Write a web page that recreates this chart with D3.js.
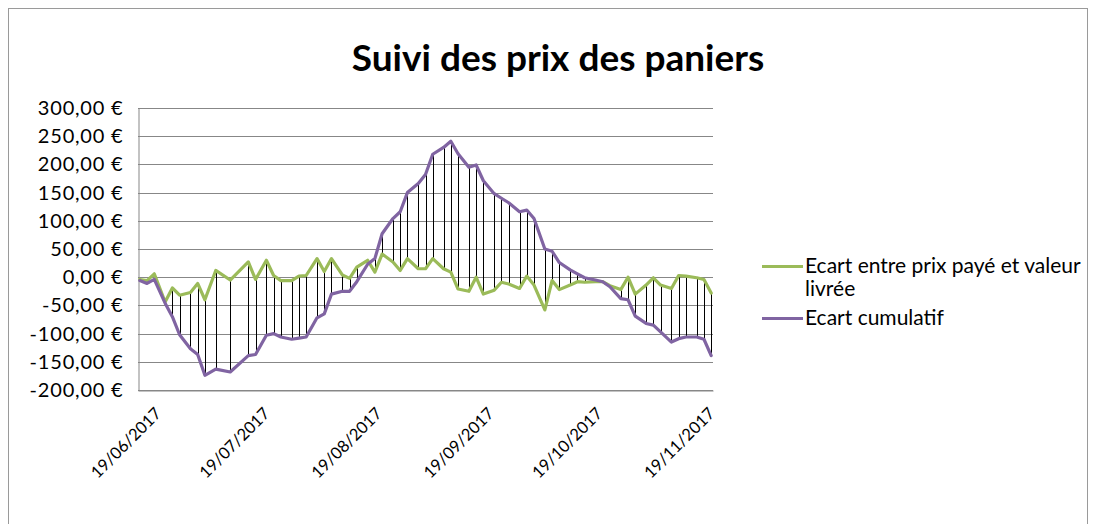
<!DOCTYPE html>
<html><head><meta charset="utf-8">
<script src="https://cdn.jsdelivr.net/npm/d3@7"></script>
<style>
body{margin:0;background:#fff}
svg{display:block}
text{font-family:Lato,"Open Sans",sans-serif;fill:#000}
</style>
</head><body>
<svg id="chart" width="1096" height="524"></svg>
<script>
const title = "Suivi des prix des paniers";
const seriesNames = ["Ecart entre prix payé et valeur livrée", "Ecart cumulatif"];
const dates = ["2017-06-19","2017-06-21","2017-06-23","2017-06-26","2017-06-28","2017-06-30",
"2017-07-03","2017-07-05","2017-07-07","2017-07-10","2017-07-14","2017-07-19","2017-07-21",
"2017-07-24","2017-07-26","2017-07-28","2017-07-31","2017-08-02","2017-08-04","2017-08-07",
"2017-08-09","2017-08-11","2017-08-14","2017-08-16","2017-08-18","2017-08-21","2017-08-23",
"2017-08-25","2017-08-28","2017-08-30","2017-09-01","2017-09-04","2017-09-06","2017-09-08",
"2017-09-11","2017-09-13","2017-09-15","2017-09-18","2017-09-20","2017-09-22","2017-09-25",
"2017-09-27","2017-09-29","2017-10-02","2017-10-04","2017-10-06","2017-10-09","2017-10-11",
"2017-10-13","2017-10-16","2017-10-18","2017-10-20","2017-10-23","2017-10-25","2017-10-27",
"2017-10-30","2017-11-01","2017-11-03","2017-11-06","2017-11-08","2017-11-10","2017-11-13",
"2017-11-15","2017-11-17","2017-11-20","2017-11-22","2017-11-24"];
const ecart = [-4,-6,6,-44,-19,-32,-27,-11,-40,12,-5,27,-4,30,3,-6,-6,2,3,33,10,33,4,-2,18,30,9,41,
27,12,33,15,15,33,15,9,-21,-25,0,-30,-23,-9,-12,-20,2,-14,-58,-6,-22,-14,-8,-9,-8,-8,-15,-22,0,
-30,-14,-1,-14,-20,3,2,-1,-4,-28];
const cumul = [-6,-11,-4,-46,-70,-102,-127,-137,-174,-163,-168,-139,-137,-103,-100,-106,-110,-108,
-106,-72,-65,-30,-25,-25,-8,23,33,77,104,116,150,166,182,218,230,241,219,195,199,171,148,140,132,
116,119,104,50,46,26,13,6,-1,-5,-8,-17,-38,-40,-69,-82,-85,-97,-115,-109,-106,-106,-110,-139];
const yTicks = [-200,-150,-100,-50,0,50,100,150,200,250,300];
const xTickDates = ["2017-06-19","2017-07-19","2017-08-19","2017-09-19","2017-10-19","2017-11-19"];
const colors = ["#9BBB59","#8064A2"];

const parse = d3.timeParse("%Y-%m-%d");
const D = dates.map(parse);
const rows = D.map((d,i)=>({date:d, e:ecart[i], c:cumul[i]}));

const svg = d3.select("#chart");
const W = 1096, H = 524;
const L = 138, R = 713, T = 108, B = 390;

svg.append("rect").attr("x",8.5).attr("y",8.5).attr("width",W-17).attr("height",H)
  .attr("fill","#fff").attr("stroke","#9a9a9a").attr("stroke-width",1);

const x = d3.scaleTime()
  .domain([d3.timeHour.offset(D[0],-12), d3.timeHour.offset(D[D.length-1],12)])
  .range([L,R]);
const y = d3.scaleLinear().domain([-200,300]).range([B,T]);

const loc = d3.formatLocale({decimal:",",thousands:" ",grouping:[3],currency:[""," €"],minus:"-"});
const fmt = loc.format("$.2f");

// grid
svg.append("g").selectAll("line").data(yTicks).join("line")
  .attr("x1",L).attr("x2",R)
  .attr("y1",d=>Math.round(y(d))+0.5).attr("y2",d=>Math.round(y(d))+0.5)
  .attr("stroke","#878787").attr("stroke-width",1);

// y axis
const ya = svg.append("g").attr("transform",`translate(${L+0.5},0)`)
  .call(d3.axisLeft(y).tickValues(yTicks).tickFormat(fmt).tickSize(0).tickPadding(15));
ya.select(".domain").attr("stroke","#878787");
ya.selectAll("text").style("font-family","Lato").style("font-size","20px")
  .style("letter-spacing","0.8px").attr("fill","#000");

// x axis
const xa = svg.append("g").attr("transform",`translate(0,${Math.round(B)+0.5})`)
  .call(d3.axisBottom(x).tickValues(xTickDates.map(parse)).tickFormat(d3.timeFormat("%d/%m/%Y")).tickSize(0));
xa.select(".domain").attr("stroke","#878787");
xa.selectAll("text").style("font-family","Lato").style("font-size","16.5px").attr("fill","#000")
  .attr("text-anchor","end").attr("dy","0.35em")
  .attr("transform","translate(18,20) rotate(-45)")
  .attr("y",0).attr("x",0);

// high-low lines
svg.append("g").selectAll("line").data(rows).join("line")
  .attr("x1",d=>Math.round(x(d.date))+0.5).attr("x2",d=>Math.round(x(d.date))+0.5)
  .attr("y1",d=>y(d.e)).attr("y2",d=>y(d.c))
  .attr("stroke","#000").attr("stroke-width",1);

// series
const line1 = d3.line().x(d=>x(d.date)).y(d=>y(d.e));
const line2 = d3.line().x(d=>x(d.date)).y(d=>y(d.c));
svg.append("path").datum(rows).attr("d",line1).attr("fill","none")
  .attr("stroke",colors[0]).attr("stroke-width",3.2).attr("stroke-linejoin","round").attr("stroke-linecap","round");
svg.append("path").datum(rows).attr("d",line2).attr("fill","none")
  .attr("stroke",colors[1]).attr("stroke-width",3.2).attr("stroke-linejoin","round").attr("stroke-linecap","round");

// title
svg.append("text").attr("x",558).attr("y",71).attr("text-anchor","middle")
  .style("font-size","37px").style("font-weight","bold").text(title);

// legend
const lg = svg.append("g");
const lx = 805;
lg.append("line").attr("x1",762).attr("x2",lx-2).attr("y1",266.5).attr("y2",266.5)
  .attr("stroke",colors[0]).attr("stroke-width",3.2);
const t1 = lg.append("text").attr("x",lx).attr("y",266).attr("dy","0.35em").style("font-size","21px");
t1.append("tspan").attr("x",lx).text("Ecart entre prix payé et valeur");
t1.append("tspan").attr("x",lx).attr("dy","1.08em").text("livrée");
lg.append("line").attr("x1",762).attr("x2",lx-2).attr("y1",318.5).attr("y2",318.5)
  .attr("stroke",colors[1]).attr("stroke-width",3.2);
lg.append("text").attr("x",lx).attr("y",318).attr("dy","0.35em").style("font-size","21px").text(seriesNames[1]);
</script>
</body></html>
